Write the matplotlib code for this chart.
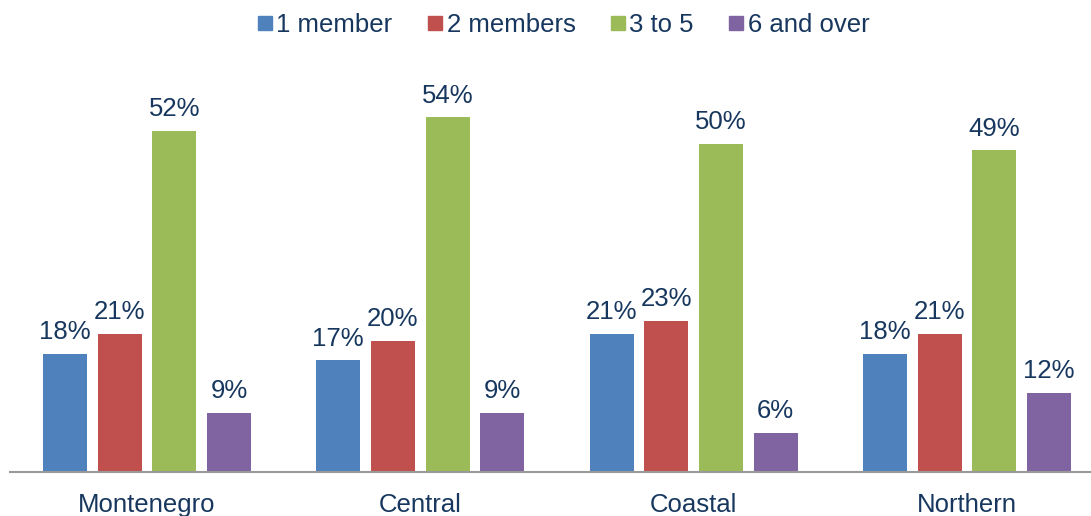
import numpy as np
import matplotlib.pyplot as plt

# household size shares by region (%)
regions = ["Montenegro", "Central", "Coastal", "Northern"]
series = ["1 member", "2 members", "3 to 5", "6 and over"]
one_member = [18, 17, 21, 18]
two_members = [21, 20, 23, 21]
three_to_five = [52, 54, 50, 49]
six_and_over = [9, 9, 6, 12]

colors = ['#4F81BD', '#C0504D', '#9BBB59', '#8064A2']
txt = '#17375E'
fs = 18.5

plt.rcParams['font.family'] = ['Liberation Sans', 'DejaVu Sans']

fig = plt.figure(figsize=(10.91, 5.16), dpi=100)
ax = fig.add_axes([10 / 1091, 44 / 516, 1 - 10 / 1091, 394 / 516])

x = np.arange(len(regions))
step = 0.2
width = 0.161
for i, (vals, name) in enumerate(zip([one_member, two_members, three_to_five, six_and_over], series)):
    pos = x + (i - 1.5) * step
    bars = ax.bar(pos, vals, width=width, color=colors[i], label=name)
    for b, v in zip(bars, vals):
        ax.annotate("%d%%" % v, (b.get_x() + b.get_width() / 2, v),
                    xytext=(0, 7), textcoords='offset points',
                    ha='center', va='bottom', fontsize=fs, color=txt)

ax.set_xlim(-0.501, 3.454)
ax.set_ylim(0, 60)
for s in ['top', 'right', 'left']:
    ax.spines[s].set_visible(False)
ax.spines['bottom'].set_color('#999999')
ax.spines['bottom'].set_linewidth(1.5)
ax.set_yticks([])
ax.set_xticks(x)
ax.set_xticklabels(regions, fontsize=fs, color=txt)
ax.tick_params(axis='x', length=0, pad=15)

handles = [plt.Line2D([], [], marker='s', linestyle='', color=c, markersize=10) for c in colors]
fig.legend(handles, series, loc='center', bbox_to_anchor=(562 / 1091, 1 - 25 / 516),
           ncol=4, frameon=False, fontsize=fs, labelcolor=txt,
           handletextpad=0.05, columnspacing=1.25, handlelength=0.8)

fig.savefig('out.png', dpi=100)
